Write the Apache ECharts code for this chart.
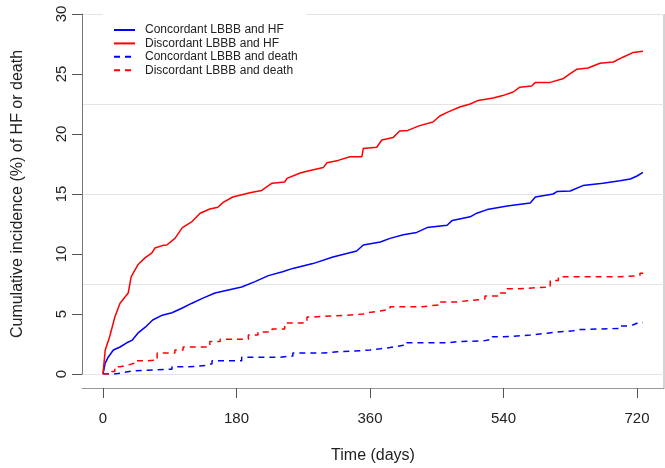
<!DOCTYPE html>
<html>
<head>
<meta charset="utf-8">
<script src="https://cdn.jsdelivr.net/npm/echarts@6/dist/echarts.min.js"></script>
<style>
  html, body { margin: 0; padding: 0; background: #fff; }
  #chart { width: 665px; height: 468px; }
</style>
</head>
<body>
<div id="chart"></div>
<script>
// x ticks (days)
const dayTicks = [0, 180, 360, 540, 720];

// Concordant LBBB and HF (blue, solid)
const concHfDays = [0, 3, 7, 14, 23, 32, 39, 47, 57, 67, 80, 93, 107, 120, 134, 151, 169, 187, 205, 223, 241, 256, 283, 310, 342, 351, 374, 387, 405, 423, 437, 464, 471, 495, 504, 518, 545, 576, 583, 607, 612, 630, 647, 674, 697, 711, 720, 728];
const concHfPct = [0, 0.9, 1.4, 2.0, 2.25, 2.6, 2.8, 3.4, 3.9, 4.5, 4.9, 5.1, 5.5, 5.9, 6.3, 6.75, 7.0, 7.25, 7.7, 8.2, 8.5, 8.8, 9.2, 9.75, 10.25, 10.75, 11.0, 11.3, 11.6, 11.8, 12.2, 12.4, 12.8, 13.1, 13.4, 13.7, 14.0, 14.25, 14.75, 15.0, 15.2, 15.25, 15.7, 15.9, 16.1, 16.25, 16.5, 16.8];

// Discordant LBBB and HF (red, solid)
const discHfDays = [0, 3, 9, 16, 23, 34, 38, 47, 57, 66, 70, 80, 86, 97, 107, 120, 131, 144, 155, 162, 175, 198, 214, 228, 245, 248, 266, 275, 297, 302, 317, 333, 349, 351, 369, 376, 391, 400, 411, 427, 445, 454, 464, 481, 495, 506, 526, 539, 553, 562, 578, 583, 603, 620, 627, 639, 654, 670, 688, 701, 715, 728];
const discHfPct = [0, 2.0, 3.1, 4.75, 5.9, 6.75, 8.1, 9.1, 9.7, 10.1, 10.5, 10.7, 10.75, 11.3, 12.2, 12.7, 13.4, 13.75, 13.9, 14.3, 14.75, 15.1, 15.3, 15.9, 16.0, 16.3, 16.75, 16.9, 17.2, 17.6, 17.8, 18.1, 18.1, 18.8, 18.9, 19.5, 19.7, 20.25, 20.3, 20.7, 21.0, 21.5, 21.8, 22.25, 22.5, 22.8, 23.0, 23.2, 23.5, 23.9, 24.0, 24.3, 24.3, 24.6, 24.9, 25.4, 25.5, 25.9, 26.0, 26.4, 26.8, 26.9];

// Concordant LBBB and death (blue, dashed)
const concDeathDays = [0, 16, 26, 39, 93, 115, 138, 147, 187, 239, 256, 297, 316, 337, 360, 374, 387, 396, 405, 464, 477, 512, 525, 539, 566, 576, 599, 612, 634, 643, 697, 707, 715, 721, 728];
const concDeathPct = [0, 0.1, 0.25, 0.4, 0.6, 0.7, 0.85, 1.1, 1.4, 1.5, 1.75, 1.85, 1.9, 2.0, 2.1, 2.2, 2.3, 2.4, 2.6, 2.7, 2.75, 2.9, 3.1, 3.2, 3.25, 3.4, 3.5, 3.6, 3.7, 3.8, 4.0, 4.1, 4.25, 4.3, 4.35];

// Discordant LBBB and death (red, dashed)
const discDeathDays = [0, 12, 16, 23, 34, 43, 57, 73, 97, 108, 144, 158, 196, 209, 228, 245, 268, 275, 283, 329, 351, 356, 374, 387, 431, 444, 452, 477, 491, 508, 515, 535, 545, 558, 603, 614, 697, 724, 728];
const discDeathPct = [0, 0.2, 0.6, 0.75, 0.9, 1.1, 1.15, 1.75, 2.0, 2.25, 2.7, 2.9, 3.25, 3.5, 3.75, 4.25, 4.3, 4.75, 4.9, 5.0, 5.1, 5.25, 5.4, 5.6, 5.7, 5.75, 6.0, 6.1, 6.2, 6.25, 6.5, 6.75, 7.1, 7.25, 7.8, 8.1, 8.2, 8.4, 8.5];

const pairs = (xs, ys) => xs.map((x, i) => [x, ys[i]]);
const font = "'Liberation Sans', Arial, sans-serif";

const chart = echarts.init(document.getElementById('chart'), null, { renderer: 'canvas' });

const lineSeries = (name, xs, ys, color, dashed) => ({
    name: name,
    type: 'line',
    xAxisIndex: 0,
    yAxisIndex: 0,
    symbol: 'none',
    showSymbol: false,
    step: dashed ? 'end' : false,
    animation: false,
    lineStyle: { color: color, width: 1.5, type: dashed ? [6, 5] : 'solid' },
    itemStyle: { color: color },
    data: pairs(xs, ys)
});

chart.setOption({
    backgroundColor: '#fff',
    animation: false,
    textStyle: { fontFamily: font },
    grid: { left: 82, right: 1, top: 14, bottom: 94, outerBoundsMode: 'none', containLabel: false },
    legend: {
        orient: 'vertical',
        left: 103,
        top: 10,
        padding: [13.5, 8, 10, 10],
        backgroundColor: '#fff',
        itemWidth: 21,
        itemHeight: 10,
        itemGap: 0.4,
        itemStyle: { opacity: 0 },
        textStyle: { fontSize: 12, color: '#222', fontFamily: font, lineHeight: 13, padding: [0, 0, 0, 5] },
        data: ['Concordant LBBB and HF', 'Discordant LBBB and HF', 'Concordant LBBB and death', 'Discordant LBBB and death']
    },
    xAxis: {
        type: 'value',
        min: -28.3,
        max: 756.4,
        offset: 14,
        name: 'Time (days)',
        nameLocation: 'middle',
        nameGap: 60,
        nameTextStyle: { fontSize: 16, color: '#222', fontFamily: font },
        axisLine: { show: true, onZero: false, lineStyle: { color: '#999', width: 1 } },
        axisTick: { show: true, length: 10, customValues: dayTicks, lineStyle: { color: '#555' } },
        axisLabel: { customValues: dayTicks, margin: 23, fontSize: 15, color: '#222', fontFamily: font },
        splitLine: { show: false }
    },
    yAxis: [
        {
            type: 'value',
            min: 0,
            max: 30,
            interval: 5,
            name: 'Cumulative incidence (%) of HF or death',
            nameLocation: 'middle',
            nameGap: 56,
            nameTextStyle: { fontSize: 16, color: '#222', fontFamily: font },
            axisLine: { show: true, onZero: false, lineStyle: { color: '#777', width: 1 } },
            axisTick: { show: true, length: 10, lineStyle: { color: '#555' } },
            axisLabel: { rotate: 90, margin: 13, fontSize: 15, color: '#222', fontFamily: font },
            splitLine: { show: false }
        },
        {
            // light reference lines every 7.5 %
            type: 'value',
            min: 0,
            max: 30,
            interval: 7.5,
            position: 'left',
            axisLine: { show: false, onZero: false },
            axisTick: { show: false },
            axisLabel: { show: false },
            splitLine: { show: true, lineStyle: { color: '#e4e4e4', width: 1 } }
        }
    ],
    graphic: [
        { type: 'line', shape: { x1: 664, y1: 14, x2: 664, y2: 388 }, style: { stroke: '#aaa', lineWidth: 1 } }
    ],
    series: [
        lineSeries('Concordant LBBB and HF', concHfDays, concHfPct, '#0000ff', false),
        lineSeries('Discordant LBBB and HF', discHfDays, discHfPct, '#ff0000', false),
        lineSeries('Concordant LBBB and death', concDeathDays, concDeathPct, '#0000ff', true),
        lineSeries('Discordant LBBB and death', discDeathDays, discDeathPct, '#ff0000', true)
    ]
});
</script>
</body>
</html>
